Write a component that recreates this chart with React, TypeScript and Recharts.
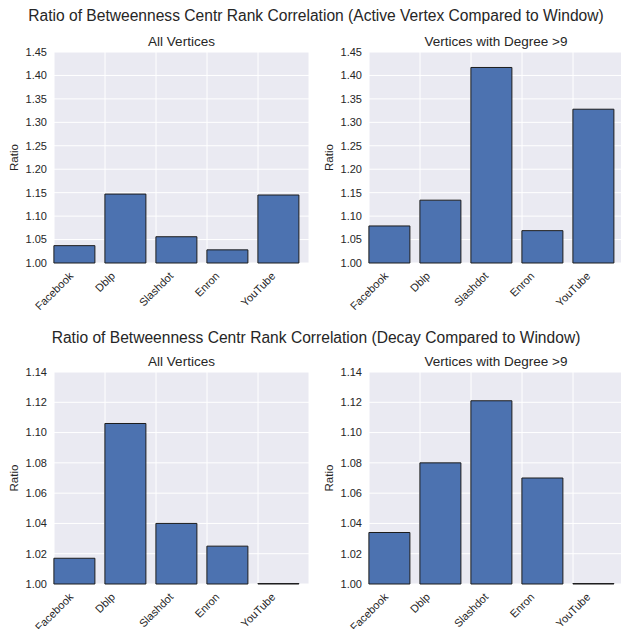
import { BarChart, Bar, XAxis, YAxis, CartesianGrid } from "recharts";

const FONT = "'Liberation Sans', Arial, Helvetica, sans-serif";
const TEXT = "#262626";

const CATEGORIES = ["Facebook", "Dblp", "Slashdot", "Enron", "YouTube"];
const X_TICKS = [0, 1, 2, 3, 4];

const ACTIVE_ALL = [1.037, 1.147, 1.056, 1.028, 1.145];
const ACTIVE_DEG9 = [1.079, 1.134, 1.417, 1.069, 1.328];
const DECAY_ALL = [1.017, 1.106, 1.04, 1.025, 1.0003];
const DECAY_DEG9 = [1.034, 1.08, 1.121, 1.07, 1.0003];

const ACTIVE_TICKS = [1.0, 1.05, 1.1, 1.15, 1.2, 1.25, 1.3, 1.35, 1.4, 1.45];
const DECAY_TICKS = [1.0, 1.02, 1.04, 1.06, 1.08, 1.1, 1.12, 1.14];

const PLOT_W = 255;

let ctx: CanvasRenderingContext2D | null = null;
const measure = (s: string, font: string) => {
    if (!ctx) ctx = document.createElement("canvas").getContext("2d");
    if (!ctx) return s.length * 6;
    ctx.font = font;
    return ctx.measureText(s).width;
};

const RotTick = ({ x, y, payload }: any) => {
    const label = CATEGORIES[payload.value] ?? "";
    const w = measure(label, `11px ${FONT}`);
    const half = (w + 11) / (2 * Math.SQRT2);
    const cx = x;
    const cy = y + 7 + half;
    return (
        <text
            x={cx}
            y={cy}
            textAnchor="middle"
            dominantBaseline="central"
            transform={`rotate(-45 ${cx} ${cy})`}
            fontSize={11}
            fontFamily={FONT}
            fill={TEXT}
        >
            {label}
        </text>
    );
};

interface PanelProps {
    left: number;
    top: number;
    height: number;
    axisWidth: number;
    plotTop: number;
    plotBottom: number;
    values: number[];
    yTicks: number[];
}

const Panel = ({ left, top, height, axisWidth, plotTop, plotBottom, values, yTicks }: PanelProps) => {
    const data = CATEGORIES.map((name, i) => ({ name, x: i + 0.4, value: values[i] }));
    return (
        <div style={{ position: "absolute", left, top }}>
            <BarChart
                width={axisWidth + PLOT_W}
                height={height}
                data={data}
                margin={{ top: plotTop - top, right: 0, bottom: 0, left: 0 }}
            >
                <CartesianGrid fill="#EAEAF2" stroke="#ffffff" strokeWidth={1} />
                <XAxis
                    dataKey="x"
                    type="number"
                    domain={[0, 5]}
                    ticks={X_TICKS}
                    interval={0}
                    height={top + height - plotBottom}
                    tick={<RotTick />}
                    tickSize={0}
                    tickMargin={0}
                    tickLine={false}
                    axisLine={false}
                />
                <YAxis
                    type="number"
                    domain={[yTicks[0], yTicks[yTicks.length - 1]]}
                    ticks={yTicks}
                    interval={0}
                    width={axisWidth}
                    tickFormatter={(v: number) => v.toFixed(2)}
                    tickSize={0}
                    tickMargin={7}
                    tickLine={false}
                    axisLine={false}
                    tick={{ fontSize: 11, fill: TEXT, fontFamily: FONT }}
                />
                <Bar
                    dataKey="value"
                    barSize={41}
                    fill="#4C72B0"
                    stroke="#1c1c1c"
                    strokeWidth={1}
                    isAnimationActive={false}
                />
            </BarChart>
        </div>
    );
};

const App = () => {
    return (
        <div
            style={{
                position: "absolute",
                left: 0,
                top: 0,
                width: 621,
                height: 629,
                overflow: "hidden",
                background: "#ffffff",
                fontFamily: FONT,
            }}
        >
            <Panel left={0} top={30} height={290} axisWidth={54} plotTop={52} plotBottom={263} values={ACTIVE_ALL} yTicks={ACTIVE_TICKS} />
            <Panel left={310} top={30} height={290} axisWidth={59} plotTop={52} plotBottom={263} values={ACTIVE_DEG9} yTicks={ACTIVE_TICKS} />
            <Panel left={0} top={350} height={279} axisWidth={54} plotTop={372} plotBottom={584} values={DECAY_ALL} yTicks={DECAY_TICKS} />
            <Panel left={310} top={350} height={279} axisWidth={59} plotTop={372} plotBottom={584} values={DECAY_DEG9} yTicks={DECAY_TICKS} />
            <svg
                width={621}
                height={629}
                style={{ position: "absolute", left: 0, top: 0, pointerEvents: "none" }}
                fontFamily={FONT}
                fill={TEXT}
            >
                <text x={316} y={21} textAnchor="middle" fontSize={15.6}>
                    Ratio of Betweenness Centr Rank Correlation (Active Vertex Compared to Window)
                </text>
                <text x={316} y={343} textAnchor="middle" fontSize={15.6}>
                    Ratio of Betweenness Centr Rank Correlation (Decay Compared to Window)
                </text>
                <text x={181.5} y={46} textAnchor="middle" fontSize={13.5}>All Vertices</text>
                <text x={496} y={46} textAnchor="middle" fontSize={13.5}>Vertices with Degree &gt;9</text>
                <text x={181.5} y={366} textAnchor="middle" fontSize={13.5}>All Vertices</text>
                <text x={496} y={366} textAnchor="middle" fontSize={13.5}>Vertices with Degree &gt;9</text>
                <text x={17.5} y={157.5} textAnchor="middle" fontSize={11.5} transform="rotate(-90 17.5 157.5)">Ratio</text>
                <text x={332.5} y={157.5} textAnchor="middle" fontSize={11.5} transform="rotate(-90 332.5 157.5)">Ratio</text>
                <text x={17.5} y={478} textAnchor="middle" fontSize={11.5} transform="rotate(-90 17.5 478)">Ratio</text>
                <text x={332.5} y={478} textAnchor="middle" fontSize={11.5} transform="rotate(-90 332.5 478)">Ratio</text>
            </svg>
        </div>
    );
};

export default App;
